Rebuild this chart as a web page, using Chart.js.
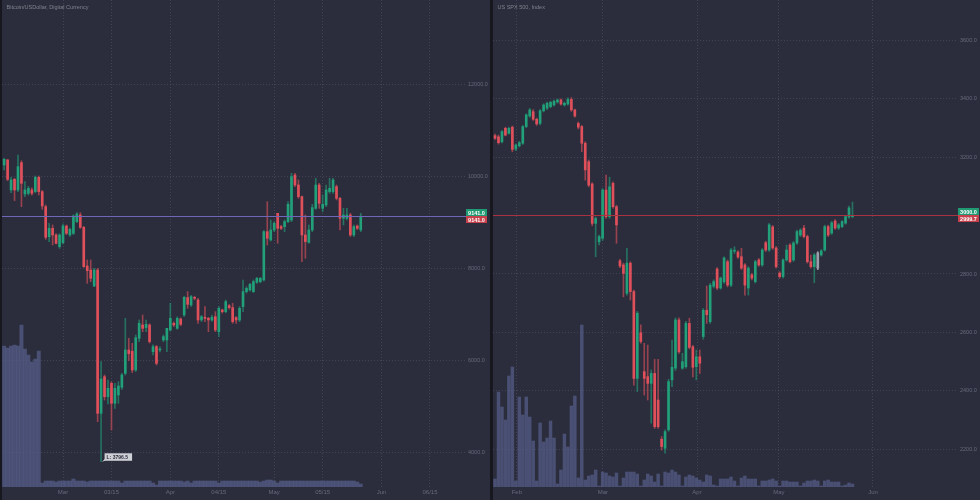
<!DOCTYPE html>
<html>
<head>
<meta charset="utf-8">
<script src="https://cdn.jsdelivr.net/npm/chart.js@4.4.1/dist/chart.umd.min.js"></script>
<style>
  html, body { margin: 0; padding: 0; background: #2b2d3c; }
  #wrap { position: relative; width: 980px; height: 500px; overflow: hidden; }
  canvas { position: absolute; top: 0; }
  #btc { left: 0; }
  #spx { left: 490px; }
</style>
</head>
<body>
<div id="wrap">
  <canvas id="btc" width="490" height="500"></canvas>
  <canvas id="spx" width="490" height="500"></canvas>
</div>
<script>
"use strict";

// ---- Bitcoin / USD, daily, day-of-year of first candle = 44 (Feb 13) ----
const BTC_FIRST_DAY = 44;
const btcOpen = [
  10255, 10364, 9711, 9943, 9711, 10306, 9624, 9638, 9711, 9675,
  9987, 9675, 9348, 8695, 8877, 8732, 8478, 8565, 8927, 8732,
  8768, 9022, 9167, 8898, 8057, 7970, 7622, 7970, 4851, 5649,
  5214, 5504, 5069, 5250, 5417, 5721, 6229, 6200, 5794, 6484,
  6774, 6716, 6774, 6193, 6302, 6230, 6447, 6447, 6665, 6810,
  6701, 6904, 6991, 7368, 7209, 7376, 7318, 6882, 6933, 6919,
  6882, 6955, 6628, 7100, 7064, 7194, 7151, 6933, 6882, 7173,
  7499, 7535, 7499, 7702, 7716, 7753, 8804, 8623, 8841, 9203,
  8913, 8913, 9022, 9058, 10037, 9820, 9566, 8732, 8572, 8841,
  9312, 9820, 9312, 9385, 9675, 9675, 9784, 9530, 9095, 9095,
  9167, 8732, 8927, 8841
];
const btcHigh = [
  10400, 10378, 9987, 9965, 10472, 10349, 9892, 9790, 9760, 10016,
  10016, 9700, 9384, 8985, 8949, 8760, 8760, 8971, 8950, 8880,
  9167, 9217, 9217, 8920, 8188, 8188, 8006, 8006, 5975, 5685,
  5576, 5540, 5504, 5540, 5721, 6918, 6484, 6375, 6556, 6882,
  6991, 6882, 6800, 6339, 6330, 6300, 6556, 6701, 7245, 6840,
  6950, 6930, 7400, 7499, 7420, 7400, 7354, 6980, 7173, 6940,
  6990, 7064, 7173, 7120, 7318, 7220, 7245, 6955, 7173, 7753,
  7608, 7680, 7753, 7810, 7810, 8830, 9457, 9058, 9022, 9203,
  8940, 9058, 9457, 10074, 10074, 9929, 9580, 9167, 8950, 9399,
  9965, 9856, 9602, 9820, 9965, 9965, 9820, 9550, 9312, 9312,
  9203, 8950, 8950, 9203
];
const btcLow = [
  10146, 9914, 9653, 9479, 9675, 9348, 9566, 9600, 9600, 9650,
  9602, 9290, 8637, 8586, 8514, 8536, 8441, 8540, 8740, 8700,
  8740, 9000, 8877, 8028, 7680, 7716, 7607, 4670, 3796.5, 5141,
  5054, 4488, 4960, 5069, 5373, 5685, 6000, 5736, 5760, 6411,
  6628, 6628, 6380, 6121, 5903, 6190, 6411, 6193, 6640, 6740,
  6680, 6760, 6960, 7136, 7180, 7320, 6810, 6850, 6846, 6628,
  6850, 6628, 6520, 7030, 7040, 7120, 6810, 6810, 6846, 7064,
  7470, 7510, 7480, 7680, 7690, 7730, 8514, 8600, 8804, 8551,
  8850, 8804, 9000, 9022, 9784, 9530, 8152, 8224, 8551, 8804,
  9290, 9312, 9240, 9348, 9638, 9638, 9494, 8841, 8950, 9058,
  8700, 8696, 8850, 8804
];
const btcClose = [
  10378, 9943, 9929, 9711, 10219, 9856, 9711, 9747, 9638, 9987,
  9675, 9363, 8681, 8877, 8732, 8550, 8732, 8927, 8768, 8855,
  9145, 9188, 8898, 8042, 7956, 7789, 7970, 4851, 5598, 5214,
  5395, 5069, 5395, 5446, 5685, 6229, 6150, 5794, 6497, 6810,
  6701, 6788, 6411, 6302, 5939, 6240, 6520, 6701, 6919, 6774,
  6919, 6788, 7376, 7223, 7390, 7354, 6882, 6955, 6919, 6882,
  6940, 6665, 7136, 7064, 7281, 7151, 6846, 6882, 7136, 7499,
  7571, 7658, 7716, 7789, 7789, 8804, 8659, 8841, 8986, 8877,
  8877, 9022, 9399, 10001, 9820, 9566, 8732, 8587, 8841, 9327,
  9820, 9421, 9399, 9711, 9747, 9929, 9530, 9095, 9167, 9167,
  8732, 8913, 8877, 9141
];
const btcVolume = [
  141, 139, 141, 142, 141, 162, 138, 132, 125, 128,
  136, 4, 6, 6, 6, 5, 6, 6, 6, 6,
  8, 6, 6, 6, 5, 6, 6, 6, 6, 6,
  6, 6, 6, 6, 4, 6, 6, 6, 6, 6,
  6, 6, 6, 4, 2, 6, 6, 6, 6, 6,
  6, 6, 5, 6, 4, 6, 6, 6, 6, 6,
  6, 6, 4, 6, 6, 6, 6, 6, 6, 6,
  6, 6, 6, 6, 5, 6, 7, 7, 6, 4,
  6, 6, 6, 6, 6, 6, 6, 6, 6, 6,
  6, 6, 6, 6, 6, 6, 6, 6, 6, 6,
  6, 6, 5, 3
];
const btcPriceTicks = [4000, 6000, 8000, 10000, 12000];
const btcDateTicks = [61, 75, 92, 106, 122, 136, 153, 167];
const btcDateLabels = ["Mar", "03/15", "Apr", "04/15", "May", "05/15", "Jun", "06/15"];
const btcLast = 9141.0;
const btcLowMark = 3796.5;

// ---- US SPX 500, bar index (6 sessions a week) ----
const spxOpen = [
  3273, 3269, 3252, 3298, 3281, 3302, 3227, 3238, 3247, 3304,
  3340, 3355, 3329, 3315, 3358, 3367, 3372, 3378, 3388, 3395,
  3378, 3381, 3397, 3361, 3315, 3304, 3247, 3184, 3108, 2973,
  2910, 2922, 3087, 2996, 3110, 3030, 2845, 2831, 2734, 2837,
  2740, 2443, 2599, 2466, 2449, 2426, 2460, 2369, 2235, 2204,
  2267, 2438, 2478, 2643, 2478, 2483, 2631, 2551, 2483, 2517,
  2586, 2676, 2637, 2758, 2817, 2752, 2773, 2842, 2762, 2878,
  2875, 2859, 2831, 2752, 2797, 2774, 2848, 2831, 2907, 2882,
  2961, 2889, 2803, 2791, 2848, 2899, 2848, 2906, 2933, 2957,
  2928, 2842, 2825, 2820, 2865, 2882, 2962, 2940, 2981, 2957,
  2962, 2974, 2995, 2996
];
const spxHigh = [
  3278, 3275, 3290, 3302, 3302, 3306, 3245, 3254, 3308, 3348,
  3366, 3362, 3333, 3362, 3382, 3388, 3391, 3395, 3398, 3399,
  3388, 3402, 3403, 3364, 3320, 3308, 3252, 3190, 3112, 2995,
  2933, 3092, 3138, 3131, 3115, 3035, 2850, 2837, 2888, 2842,
  2745, 2672, 2626, 2563, 2557, 2472, 2508, 2508, 2244, 2267,
  2440, 2574, 2650, 2650, 2529, 2638, 2649, 2556, 2540, 2540,
  2682, 2759, 2768, 2780, 2822, 2790, 2859, 2848, 2888, 2893,
  2880, 2888, 2836, 2825, 2802, 2847, 2853, 2887, 2912, 2973,
  2966, 2894, 2808, 2852, 2899, 2904, 2911, 2950, 2955, 2966,
  2933, 2865, 2870, 2876, 2884, 2967, 2967, 2980, 2986, 2973,
  2983, 3000, 3032, 3046
];
const spxLow = [
  3260, 3244, 3248, 3272, 3278, 3218, 3222, 3234, 3243, 3300,
  3336, 3325, 3308, 3310, 3354, 3362, 3368, 3374, 3384, 3377,
  3374, 3377, 3356, 3336, 3296, 3218, 3121, 3098, 2965, 2859,
  2899, 2915, 2990, 2990, 3025, 2905, 2822, 2722, 2728, 2711,
  2420, 2398, 2563, 2386, 2369, 2290, 2272, 2272, 2198, 2187,
  2262, 2415, 2470, 2528, 2474, 2478, 2544, 2448, 2438, 2460,
  2577, 2631, 2631, 2752, 2746, 2748, 2768, 2756, 2757, 2870,
  2853, 2815, 2728, 2728, 2780, 2769, 2826, 2826, 2877, 2877,
  2884, 2820, 2785, 2786, 2844, 2838, 2843, 2901, 2928, 2923,
  2837, 2820, 2770, 2815, 2861, 2878, 2928, 2935, 2952, 2952,
  2958, 2970, 2990, 2992
];
const spxClose = [
  3264, 3249, 3287, 3275, 3298, 3226, 3241, 3249, 3304, 3344,
  3361, 3329, 3313, 3358, 3378, 3384, 3387, 3391, 3395, 3381,
  3384, 3397, 3361, 3340, 3302, 3247, 3156, 3104, 2973, 2990,
  2928, 3087, 2996, 3098, 3030, 2968, 2827, 2802, 2837, 2740,
  2443, 2666, 2569, 2443, 2426, 2460, 2278, 2278, 2210, 2261,
  2432, 2481, 2643, 2534, 2500, 2631, 2549, 2481, 2517, 2495,
  2676, 2661, 2762, 2774, 2752, 2786, 2855, 2762, 2882, 2879,
  2858, 2820, 2762, 2820, 2786, 2842, 2831, 2882, 2882, 2968,
  2889, 2825, 2791, 2848, 2882, 2842, 2906, 2945, 2950, 2928,
  2842, 2825, 2865, 2872, 2879, 2962, 2933, 2975, 2957, 2968,
  2979, 2996, 3026, 2999.7
];
const spxVolume = [
  8, 95, 80, 67, 111, 120, 6, 90, 72, 90,
  70, 46, 6, 64, 45, 49, 66, 49, 3, 17,
  53, 40, 81, 91, 9, 162, 7, 11, 12, 17,
  1, 15, 14, 11, 10, 14, 1, 9, 15, 15,
  15, 13, 1, 7, 13, 11, 5, 13, 1, 15,
  14, 17, 15, 12, 1, 10, 12, 11, 9, 7,
  5, 12, 11, 2, 1, 8, 8, 8, 10, 6,
  1, 9, 11, 8, 8, 8, 1, 6, 6, 7,
  8, 6, 1, 6, 6, 5, 5, 5, 1, 4,
  6, 6, 7, 6, 1, 6, 7, 5, 5, 5,
  1, 2, 4, 3
];
const spxPriceTicks = [2200, 2400, 2600, 2800, 3000, 3200, 3400, 3600];
const spxDateTicks = [6.3, 31.1, 58.2, 81.8, 108.9];
const spxDateLabels = ["Feb", "Mar", "Apr", "May", "Jun"];
const spxLast = 3000.0;
const spxTags = ["3000.0", "2999.7"];
const spxSelectedBar = 93;

// ---- look ----
const BG = "#2b2d3c";
const DIVIDER = "#17181f";
const GRID = "rgba(95, 100, 125, 0.42)";
const TEXT = "#666a7b";
const TITLE = "#80838f";
const UP = "#21a079";
const DOWN = "#e0505b";
const UP_WICK = "rgba(33, 160, 121, 0.6)";
const DOWN_WICK = "rgba(224, 80, 91, 0.6)";
const SELECTED = "#9c9eaa";
const VOLUME = "rgba(86, 94, 138, 0.72)";
const TAG_UP = "#1f9a73";
const TAG_DOWN = "#c7404b";
const FONT = "'Liberation Sans', Arial, sans-serif";
const VOLUME_AXIS_MAX = 487;

function drawTag(ctx, x, y, w, h, bg, text) {
  ctx.fillStyle = bg;
  ctx.fillRect(x, y, w, h);
  ctx.fillStyle = "#ffffff";
  ctx.textAlign = "center";
  ctx.textBaseline = "middle";
  ctx.fillText(text, x + w / 2, y + h / 2 + 0.5);
}

const panelPlugin = {
  id: "panel",
  beforeDraw(chart, args, o) {
    const { ctx, width, height } = chart;
    ctx.save();
    ctx.fillStyle = BG;
    ctx.fillRect(0, 0, width, height);
    ctx.fillStyle = DIVIDER;
    ctx.fillRect(0, 0, o.divider, height);
    ctx.restore();
  },
  afterDatasetsDraw(chart, args, o) {
    const { ctx, chartArea: a, scales } = chart;
    const y = Math.round(scales.y.getPixelForValue(o.last)) + 0.5;
    ctx.save();
    ctx.strokeStyle = o.lineColor;
    ctx.lineWidth = 1;
    ctx.beginPath();
    ctx.moveTo(a.left, y);
    ctx.lineTo(a.right, y);
    ctx.stroke();

    ctx.font = "bold 5.5px " + FONT;
    drawTag(ctx, a.right, y - 7.5, 21, 7, TAG_UP, o.tags[0]);
    drawTag(ctx, a.right, y - 0.5, 21, 7, TAG_DOWN, o.tags[1]);

    if (o.lowMark) {
      const px = scales.x.getPixelForValue(o.lowMark.x);
      const py = scales.y.getPixelForValue(o.lowMark.value);
      ctx.fillStyle = "#cfd0d6";
      ctx.beginPath();
      ctx.moveTo(px + 1, py);
      ctx.lineTo(px + 4, py - 3);
      ctx.lineTo(px + 4, py - 1);
      ctx.closePath();
      ctx.fill();
      ctx.fillRect(px + 3.5, py - 8.5, 27.5, 7.5);
      ctx.fillStyle = "#2b2d3c";
      ctx.font = "bold 5px " + FONT;
      ctx.textAlign = "left";
      ctx.textBaseline = "middle";
      ctx.fillText("L: " + o.lowMark.value.toFixed(1), px + 5.5, py - 4.5);
    }

    ctx.fillStyle = TITLE;
    ctx.font = "5.5px " + FONT;
    ctx.textAlign = "left";
    ctx.textBaseline = "alphabetic";
    ctx.fillText(o.title, o.divider + 4.5, 8.5);
    ctx.restore();
  }
};

function candleDatasets(p) {
  const bodyColor = p.open.map((o, i) =>
    i === p.selected ? SELECTED : p.close[i] >= o ? UP : DOWN);
  const wickColor = p.open.map((o, i) =>
    i === p.selected ? SELECTED : p.close[i] >= o ? UP_WICK : DOWN_WICK);
  return [
    {
      label: "body", order: 1, grouped: false, barThickness: 2, minBarLength: 1,
      yAxisID: "y", backgroundColor: bodyColor,
      data: p.x.map((x, i) => ({ x, y: [p.open[i], p.close[i]] }))
    },
    {
      label: "wick", order: 2, grouped: false, barThickness: 1,
      yAxisID: "y", backgroundColor: wickColor,
      data: p.x.map((x, i) => ({ x, y: [p.low[i], p.high[i]] }))
    },
    {
      label: "volume", order: 3, grouped: false, barThickness: p.volumeWidth,
      yAxisID: "yv", backgroundColor: VOLUME,
      data: p.x.map((x, i) => ({ x, y: p.volume[i] }))
    }
  ];
}

function buildPanel(canvasId, p) {
  const tickFont = { family: FONT, size: 5.5 };
  return new Chart(document.getElementById(canvasId), {
    type: "bar",
    data: { datasets: candleDatasets(p) },
    options: {
      responsive: false,
      animation: false,
      devicePixelRatio: 1,
      layout: { padding: { left: p.divider, top: 0, right: 0, bottom: 0 } },
      plugins: {
        legend: { display: false },
        tooltip: { enabled: false },
        panel: {
          divider: p.divider, last: p.last, tags: p.tags, lineColor: p.lineColor,
          title: p.title, lowMark: p.lowMark
        }
      },
      scales: {
        x: {
          type: "linear", min: p.xMin, max: p.xMax, offset: false,
          afterBuildTicks: s => { s.ticks = p.dateTicks.map(value => ({ value })); },
          afterFit: s => {
            s.height = 13;
            s.paddingLeft = 0;
            s.paddingRight = 0;
          },
          ticks: {
            autoSkip: false, maxRotation: 0, padding: 2, color: TEXT,
            font: { family: FONT, size: 6 },
            callback: (v, i) => p.dateLabels[i]
          },
          grid: { color: GRID, drawTicks: false, offset: false },
          border: { display: false, dash: [1, 2] }
        },
        y: {
          position: "right", min: p.yMin, max: p.yMax,
          afterBuildTicks: s => { s.ticks = p.priceTicks.map(value => ({ value })); },
          afterFit: s => {
            s.width = p.axisWidth;
            s.paddingTop = 0;
            s.paddingBottom = 0;
          },
          ticks: { padding: 2, color: TEXT, font: tickFont, callback: v => v.toFixed(1) },
          grid: { color: GRID, drawTicks: false },
          border: { display: false, dash: [1, 2] }
        },
        yv: { display: false, min: 0, max: VOLUME_AXIS_MAX }
      }
    },
    plugins: [panelPlugin]
  });
}

buildPanel("btc", {
  title: "Bitcoin/USDollar, Digital Currency",
  x: btcClose.map((_, i) => BTC_FIRST_DAY + i),
  open: btcOpen, high: btcHigh, low: btcLow, close: btcClose, volume: btcVolume,
  selected: -1,
  volumeWidth: 3.3,
  xMin: 43.38, xMax: 177.4,
  yMin: 3248, yMax: 13845,
  priceTicks: btcPriceTicks,
  dateTicks: btcDateTicks, dateLabels: btcDateLabels,
  divider: 2, axisWidth: 24,
  last: btcLast, tags: [btcLast.toFixed(1), btcLast.toFixed(1)],
  lineColor: "#6f67b9",
  lowMark: { x: BTC_FIRST_DAY + btcLow.indexOf(btcLowMark), value: btcLowMark }
});

buildPanel("spx", {
  title: "US SPX 500, Index",
  x: spxClose.map((_, i) => i),
  open: spxOpen, high: spxHigh, low: spxLow, close: spxClose, volume: spxVolume,
  selected: spxSelectedBar,
  volumeWidth: 2.8,
  xMin: -0.58, xMax: 133.4,
  yMin: 2071.7, yMax: 3736.8,
  priceTicks: spxPriceTicks,
  dateTicks: spxDateTicks, dateLabels: spxDateLabels,
  divider: 3, axisWidth: 22,
  last: spxLast, tags: spxTags,
  lineColor: "#a8323f",
  lowMark: null
});
</script>
</body>
</html>
